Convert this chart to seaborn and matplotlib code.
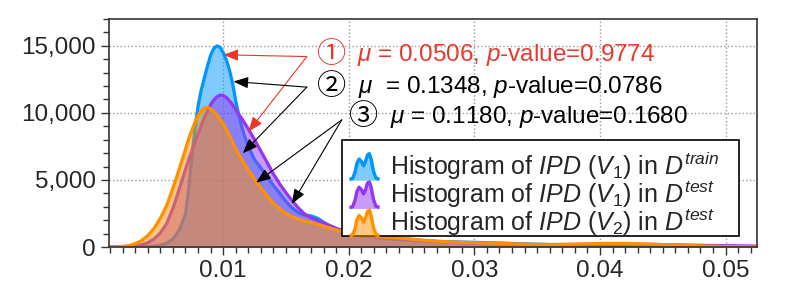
import matplotlib
matplotlib.use("Agg")
import matplotlib.pyplot as plt
import seaborn as sns
import numpy as np
from matplotlib.ticker import MultipleLocator, FuncFormatter, FormatStrFormatter
from matplotlib.legend_handler import HandlerBase
from matplotlib.patches import Patch, Polygon, Rectangle

# density curves (x = IPD value, y = density)
ipd = [0.001, 0.0015, 0.002, 0.0025, 0.003, 0.0035, 0.004, 0.0045, 0.005, 0.0055,
       0.006, 0.0065, 0.007, 0.00725, 0.0075, 0.00775, 0.008, 0.00825, 0.0085, 0.00875,
       0.009, 0.00925, 0.0095, 0.00975, 0.010, 0.01025, 0.0105, 0.01075, 0.011, 0.01125,
       0.0115, 0.01175, 0.012, 0.0125, 0.013, 0.0135, 0.014, 0.0145, 0.015, 0.0155,
       0.016, 0.0165, 0.017, 0.0175, 0.018, 0.0185, 0.019, 0.0195, 0.020, 0.021,
       0.022, 0.023, 0.024, 0.025, 0.026, 0.027, 0.028, 0.029, 0.030, 0.032,
       0.034, 0.036, 0.038, 0.040, 0.042, 0.044, 0.046, 0.048, 0.050, 0.0525]

v1_train = [0, 0, 0, 2, 5, 10, 25, 60, 130, 280,
            600, 1250, 2450, 4300, 6700, 8800, 10500, 11700, 12600, 13500,
            14300, 14800, 15000, 14900, 14500, 13950, 13200, 12200, 10900, 9800,
            8900, 8150, 7500, 6500, 5900, 5200, 4600, 4000, 3400, 2900,
            2550, 2380, 2320, 2150, 1850, 1550, 1300, 1150, 1020, 850,
            720, 630, 560, 500, 450, 420, 390, 370, 350, 300,
            230, 180, 160, 170, 180, 160, 120, 80, 50, 20]

v1_test = [0, 3, 15, 40, 80, 170, 320, 600, 1050, 1750,
           2900, 4300, 5800, 6500, 7150, 7800, 8450, 9050, 9650, 10150,
           10600, 10950, 11200, 11330, 11300, 11150, 10900, 10600, 10250, 9900,
           9550, 9180, 8800, 8000, 7150, 6300, 5450, 4700, 4050, 3450,
           2900, 2450, 2180, 1980, 1800, 1600, 1400, 1220, 1100, 930,
           800, 710, 640, 560, 480, 410, 360, 320, 290, 240,
           200, 180, 180, 200, 210, 190, 160, 130, 100, 70]

v2_test = [0, 10, 40, 110, 250, 480, 850, 1400, 2150, 3100,
           4400, 5800, 7300, 8050, 8700, 9300, 9800, 10150, 10350, 10400,
           10300, 10100, 9850, 9550, 9200, 8780, 8300, 7800, 7300, 6900,
           6500, 6120, 5750, 5050, 4400, 3800, 3250, 2850, 2500, 2250,
           2080, 1950, 1830, 1700, 1560, 1420, 1280, 1150, 1050, 920,
           820, 750, 680, 590, 500, 430, 380, 350, 320, 270,
           210, 195, 220, 265, 270, 220, 150, 90, 40, 15]

labels = [r"Histogram of $\mathit{IPD}$ ($V_{\mathit{1}}$) in $D^{\mathit{train}}$",
          r"Histogram of $\mathit{IPD}$ ($V_{\mathit{1}}$) in $D^{\mathit{test}}$",
          r"Histogram of $\mathit{IPD}$ ($V_{\mathit{2}}$) in $D^{\mathit{test}}$"]
colors = ["#0096FF", "#9436F5", "#FF9100"]

notes = [r"$\mu$ = 0.0506, $p$-value=0.9774",
         r"$\mu$  = 0.1348, $p$-value=0.0786",
         r"$\mu$ = 0.1180, $p$-value=0.1680"]
marks = ["\u2460", "\u2461", "\u2462"]
red = "#E8382C"

sns.set_style("ticks")
plt.rcParams['font.family'] = ['Liberation Sans', 'Noto Sans CJK JP', 'DejaVu Sans']
plt.rcParams['mathtext.fontset'] = 'custom'
plt.rcParams['mathtext.rm'] = 'Liberation Sans'
plt.rcParams['mathtext.it'] = 'Liberation Sans:italic'


class KdeIcon(HandlerBase):
    # little two-peak mountain used as legend key
    def create_artists(self, legend, orig_handle, xd, yd, width, height, fontsize, trans):
        shape = [(0.0, 0.05), (0.1, 0.08), (0.18, 0.3), (0.25, 0.65), (0.32, 0.8),
                 (0.4, 0.7), (0.47, 0.55), (0.53, 0.7), (0.6, 0.95), (0.66, 1.0),
                 (0.72, 0.8), (0.8, 0.35), (0.88, 0.1), (1.0, 0.05)]
        h = height * 1.55
        y0 = -yd - height * 0.35
        pts = [(-xd + x * width, y0 + y * h) for x, y in shape]
        fill = Polygon(pts + [(-xd + width, y0), (-xd, y0)],
                       closed=True, facecolor=orig_handle.get_facecolor(),
                       edgecolor='none', transform=trans)
        line = Polygon(pts, closed=False, fill=False, joinstyle='round',
                       edgecolor=orig_handle.get_edgecolor(), linewidth=2.4,
                       transform=trans)
        return [fill, line]


fig = plt.figure(figsize=(7.89, 2.96), dpi=100)
ax = fig.add_axes([0.138, 0.1655, 0.8214, 0.7703])

# each series: fill then outline, later series stacked over earlier ones
for i, (ys, c) in enumerate(zip([v1_train, v1_test, v2_test], colors)):
    ax.fill_between(ipd, ys, 0, color=c, alpha=0.5, linewidth=0, zorder=2 + i)
    sns.lineplot(x=ipd, y=ys, color=c, linewidth=2.3, ax=ax, zorder=2.5 + i)

ax.set_xlim(0.0009, 0.0525)
ax.set_ylim(0, 17000)
ax.xaxis.set_major_locator(MultipleLocator(0.01))
ax.xaxis.set_minor_locator(MultipleLocator(0.001))
ax.yaxis.set_major_locator(MultipleLocator(5000))
ax.yaxis.set_minor_locator(MultipleLocator(1000))
ax.xaxis.set_major_formatter(FormatStrFormatter('%.2f'))
ax.yaxis.set_major_formatter(FuncFormatter(lambda v, p: f"{v:,.0f}"))
ax.tick_params(which='major', length=6, width=1, labelsize=17.5, color='#333333')
ax.tick_params(which='minor', length=4, width=1, color='#333333')
ax.grid(True, which='major', linestyle=':', color='#999999', linewidth=1)
ax.set_axisbelow(True)
for s in ax.spines.values():
    s.set_visible(True)
    s.set_color('#333333')
    s.set_linewidth(1.2)
    s.set_zorder(6)
ax.set_xlabel("")
ax.set_ylabel("")

# arrows pointing at the curves
arrow_sets = [
    (red, (0.01666, 14200), [(0.01002, 14330), (0.01201, 8600)]),
    ('black', (0.01666, 11920), [(0.01082, 12340), (0.01157, 6990)]),
    ('black', (0.01944, 9480), [(0.01263, 4800), (0.01547, 3210)]),
]
for c, start, tips in arrow_sets:
    for tip in tips:
        ax.annotate("", xy=tip, xytext=start, zorder=7,
                    arrowprops=dict(arrowstyle='-|>,head_length=0.9,head_width=0.35',
                                    color=c, lw=0.8, shrinkA=0, shrinkB=0))

# annotation texts
note_pos = [(317, 55, 357), (317, 87, 358), (349, 117, 390)]
for i, (mx, my, tx) in enumerate(note_pos):
    c = red if i == 0 else 'black'
    fig.text(mx / 789, 1 - my / 296, marks[i], color=c, fontsize=21,
             ha='left', va='center', family=['Noto Sans CJK JP', 'DejaVu Sans'])
    fig.text(tx / 789, 1 - my / 296, notes[i], color=c, fontsize=17.5,
             ha='left', va='center')

# legend box, drawn separately so it can be wider than its text
box = Rectangle((342 / 789, 1 - 236 / 296), 397 / 789, 96 / 296,
                transform=fig.transFigure, facecolor='white', edgecolor='black',
                linewidth=1.2, zorder=8, clip_on=False)
ax.add_patch(box)

handles = [Patch(facecolor=matplotlib.colors.to_rgba(c, 0.5), edgecolor=c) for c in colors]
leg = ax.legend(handles, labels, handler_map={Patch: KdeIcon()},
                loc='upper left', bbox_to_anchor=(342 / 789, 1 - 142 / 296),
                bbox_transform=fig.transFigure, borderaxespad=0,
                fontsize=18, handlelength=1.2, handletextpad=0.4,
                labelspacing=-0.1, borderpad=0.3, frameon=False)
leg.set_zorder(9)

plt.savefig("out.png", dpi=100)
